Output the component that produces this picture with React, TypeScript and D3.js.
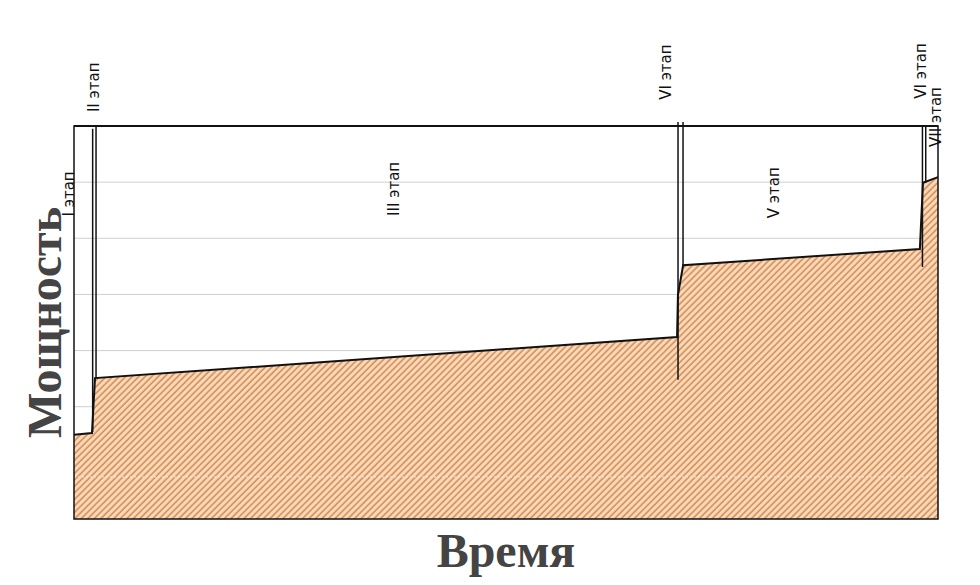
import React from "react";
import * as d3 from "d3";

// Power curve (time in % of total, power in grid units)
const curveTime = [0, 2.08, 2.43, 69.8, 69.9, 70.5, 97.9, 98.26, 100];
const curvePower = [1.5, 1.53, 2.51, 3.24, 3.99, 4.52, 4.81, 5.99, 6.09];

// Stage boundary lines
const boundaryTime = [2.16, 2.55, 69.91, 70.49, 98.2, 98.58];
const boundaryFrom = [1.55, 2.51, 2.48, 4.52, 4.49, 5.99];
const boundaryTo = [6.95, 7, 7.07, 7.07, 7, 7];

// Stage labels
const stageNames = ["I этап", "II этап", "III этап", "VI этап", "V этап", "VI этап", "VII этап"];
const stageLabelTime = [0, 2.9, 37.6, 69.1, 81.6, 98.6, 100.3];
const stageLabelPower = [5.79, 7.69, 5.88, 7.96, 5.81, 7.98, 7.16];

const gridValues = [1, 2, 3, 4, 5, 6];
const faintLine = [0.75];

const xTitle = "Время";
const yTitle = "Мощность";

export default function App() {
  const W = 980, H = 585;
  const left = 74, right = 938, top = 126, bottom = 519;
  const x = d3.scaleLinear().domain([0, 100]).range([left, right]);
  const y = d3.scaleLinear().domain([0, 7]).range([bottom, top]);

  const pts: [number, number][] = curveTime.map((t, i) => [t, curvePower[i]]);
  const area = d3.area<[number, number]>()
    .x(d => x(d[0]))
    .y0(y(0))
    .y1(d => y(d[1]));
  const line = d3.line<[number, number]>()
    .x(d => x(d[0]))
    .y(d => y(d[1]));

  return (
    <svg width={W} height={H} style={{ position: "absolute", left: 0, top: 0, display: "block", background: "#fff" }}>
      <defs>
        <pattern id="hatch" patternUnits="userSpaceOnUse" width="4.6" height="4.6" patternTransform="rotate(45)">
          <rect width="4.6" height="4.6" fill="#fdd8b6" />
          <line x1="1" y1="0" x2="1" y2="4.6" stroke="#cc8b57" strokeWidth="1.5" />
        </pattern>
      </defs>
      {gridValues.map(g => (
        <line key={g} x1={left} x2={right} y1={y(g)} y2={y(g)} stroke="#cfcfcf" strokeWidth={1} />
      ))}
      <path d={area(pts) || ""} fill="url(#hatch)" />
      {faintLine.map(g => (
        <line key={g} x1={left} x2={right} y1={y(g)} y2={y(g)} stroke="#f4e6da" strokeWidth={1} strokeDasharray="2,2" />
      ))}
      <path d={line(pts) || ""} fill="none" stroke="#111" strokeWidth={2} />
      {boundaryTime.map((t, i) => (
        <line key={i} x1={x(t)} x2={x(t)} y1={y(boundaryFrom[i])} y2={y(boundaryTo[i])} stroke="#111" strokeWidth={1.5} />
      ))}
      <rect x={left} y={top} width={right - left} height={bottom - top} fill="none" stroke="#111" strokeWidth={1.5} />
      <line x1={left} x2={right} y1={top} y2={top} stroke="#111" strokeWidth={2} />
      <text x={(left + right) / 2} y={567} textAnchor="middle" fontFamily="Liberation Serif" fontWeight="bold"
        fontSize={48} fill="#444">{xTitle}</text>
      <text transform={`translate(61,${(top + bottom) / 2}) rotate(-90)`} textAnchor="middle" fontFamily="Liberation Serif"
        fontWeight="bold" fontSize={48} fill="#444">{yTitle}</text>
      {stageNames.map((n, i) => (
        <text key={i} transform={`translate(${x(stageLabelTime[i])},${y(stageLabelPower[i])}) rotate(-90)`}
          textAnchor="middle" fontFamily="DejaVu Sans" fontSize={15} fill="#111">{n}</text>
      ))}
    </svg>
  );
}
